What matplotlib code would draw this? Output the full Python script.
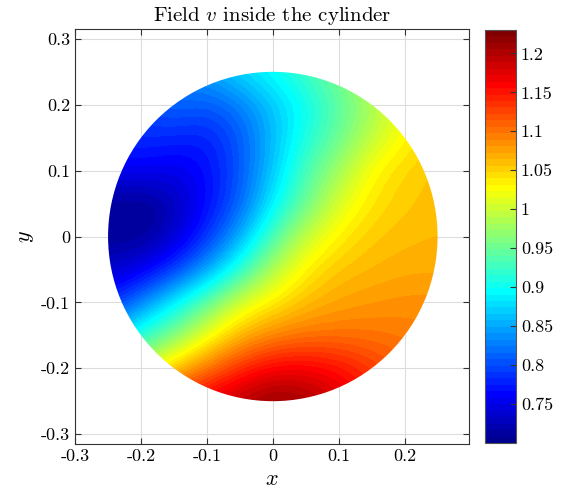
import numpy as np
import matplotlib
matplotlib.use("Agg")
import matplotlib.pyplot as plt
from matplotlib.colors import ListedColormap
from matplotlib.patches import Circle

plt.rcParams['font.family'] = 'serif'
plt.rcParams['font.serif'] = ['cmr10', 'DejaVu Serif']
plt.rcParams['mathtext.fontset'] = 'cm'
plt.rcParams['axes.unicode_minus'] = False
plt.rcParams['axes.formatter.use_mathtext'] = True

x_nodes = [-0.25, -0.20, -0.15, -0.10, -0.05, 0.0, 0.05, 0.10, 0.15, 0.20, 0.25]
y_nodes = [0.25, 0.20, 0.15, 0.10, 0.05, 0.0, -0.05, -0.10, -0.15, -0.20, -0.25]

v_y025 = [0.80, 0.82, 0.84, 0.85, 0.88, 0.90, 0.93, 0.96, 1.00, 1.03, 1.05]
v_y020 = [0.79, 0.80, 0.818, 0.806, 0.826, 0.866, 0.90, 0.94, 0.98, 1.02, 1.05]
v_y015 = [0.78, 0.785, 0.78, 0.775, 0.806, 0.86, 0.91, 0.95, 0.995, 1.03, 1.05]
v_y010 = [0.755, 0.76, 0.75, 0.765, 0.806, 0.866, 0.935, 0.98, 1.03, 1.05, 1.06]
v_y005 = [0.71, 0.70, 0.725, 0.765, 0.81, 0.89, 0.95, 1.01, 1.04, 1.055, 1.06]
v_y000 = [0.71, 0.705, 0.735, 0.785, 0.85, 0.935, 1.00, 1.035, 1.055, 1.062, 1.065]
v_ym005 = [0.73, 0.75, 0.79, 0.845, 0.915, 0.99, 1.035, 1.058, 1.065, 1.07, 1.07]
v_ym010 = [0.78, 0.83, 0.89, 0.947, 1.01, 1.036, 1.062, 1.075, 1.08, 1.085, 1.085]
v_ym015 = [0.86, 0.92, 0.96, 1.02, 1.065, 1.09, 1.10, 1.10, 1.10, 1.095, 1.09]
v_ym020 = [0.95, 1.00, 1.06, 1.10, 1.14, 1.165, 1.165, 1.155, 1.13, 1.11, 1.10]
v_ym025 = [1.05, 1.10, 1.15, 1.18, 1.20, 1.22, 1.21, 1.18, 1.15, 1.13, 1.12]

radius = 0.25
v_min, v_max = 0.70, 1.23
x_ticks = [-0.3, -0.2, -0.1, 0.0, 0.1, 0.2]
x_ticklabels = ['-0.3', '-0.2', '-0.1', '0', '0.1', '0.2']
y_ticks = [-0.3, -0.2, -0.1, 0.0, 0.1, 0.2, 0.3]
y_ticklabels = ['-0.3', '-0.2', '-0.1', '0', '0.1', '0.2', '0.3']
cb_ticks = [0.75, 0.8, 0.85, 0.9, 0.95, 1.0, 1.05, 1.1, 1.15, 1.2]
cb_ticklabels = ['0.75', '0.8', '0.85', '0.9', '0.95', '1', '1.05', '1.1', '1.15', '1.2']

V = np.array([v_y025, v_y020, v_y015, v_y010, v_y005, v_y000,
              v_ym005, v_ym010, v_ym015, v_ym020, v_ym025])


def matlab_jet(n=64):
    m = int(np.ceil(n / 4))
    u = np.concatenate([np.arange(1, m + 1) / m, np.ones(m - 1), np.arange(m, 0, -1) / m])
    g = int(np.ceil(m / 2)) - (1 if n % 4 == 1 else 0) + np.arange(1, len(u) + 1)
    r = g + m
    b = g - m
    rgb = np.zeros((n, 3))
    for idx, ch in ((r, 0), (g, 1), (b, 2)):
        ok = (idx >= 1) & (idx <= n)
        rgb[idx[ok] - 1, ch] = u[ok]
    return ListedColormap(rgb)


cmap = matlab_jet(64)

fig = plt.figure(figsize=(5.69, 5.0), dpi=100)
ax = fig.add_axes([0.132, 0.112, 0.692, 0.830])
cax = fig.add_axes([0.852, 0.114, 0.055, 0.826])

dx = (x_nodes[1] - x_nodes[0]) / 2
img = ax.imshow(V, cmap=cmap, vmin=v_min, vmax=v_max, interpolation='bicubic',
                extent=[x_nodes[0] - dx, x_nodes[-1] + dx, y_nodes[-1] - dx, y_nodes[0] + dx],
                origin='upper', zorder=2, aspect='auto')
clip = Circle((0, 0), radius, transform=ax.transData)
img.set_clip_path(clip)

ax.set_xlim(-0.3, 0.2975)
ax.set_ylim(-0.315, 0.315)
ax.set_xticks(x_ticks)
ax.set_xticklabels(x_ticklabels)
ax.set_yticks(y_ticks)
ax.set_yticklabels(y_ticklabels)
ax.grid(True, color='#dcdcdc', linewidth=0.8, zorder=0)
ax.set_axisbelow(True)
ax.tick_params(direction='in', top=True, right=True, labelsize=13, length=4, color='#333333')
for s in ax.spines.values():
    s.set_color('#333333')
    s.set_linewidth(0.8)
ax.set_xlabel('$x$', fontsize=16)
ax.set_ylabel('$y$', fontsize=16)
ax.set_title('Field $v$ inside the cylinder', fontsize=15)

cb = fig.colorbar(img, cax=cax)
cb.set_ticks(cb_ticks)
cb.set_ticklabels(cb_ticklabels)
cb.ax.tick_params(direction='in', labelsize=13, length=4, color='#333333')
cb.outline.set_edgecolor('#555555')
cb.outline.set_linewidth(0.8)

fig.savefig('out.png', dpi=100)
